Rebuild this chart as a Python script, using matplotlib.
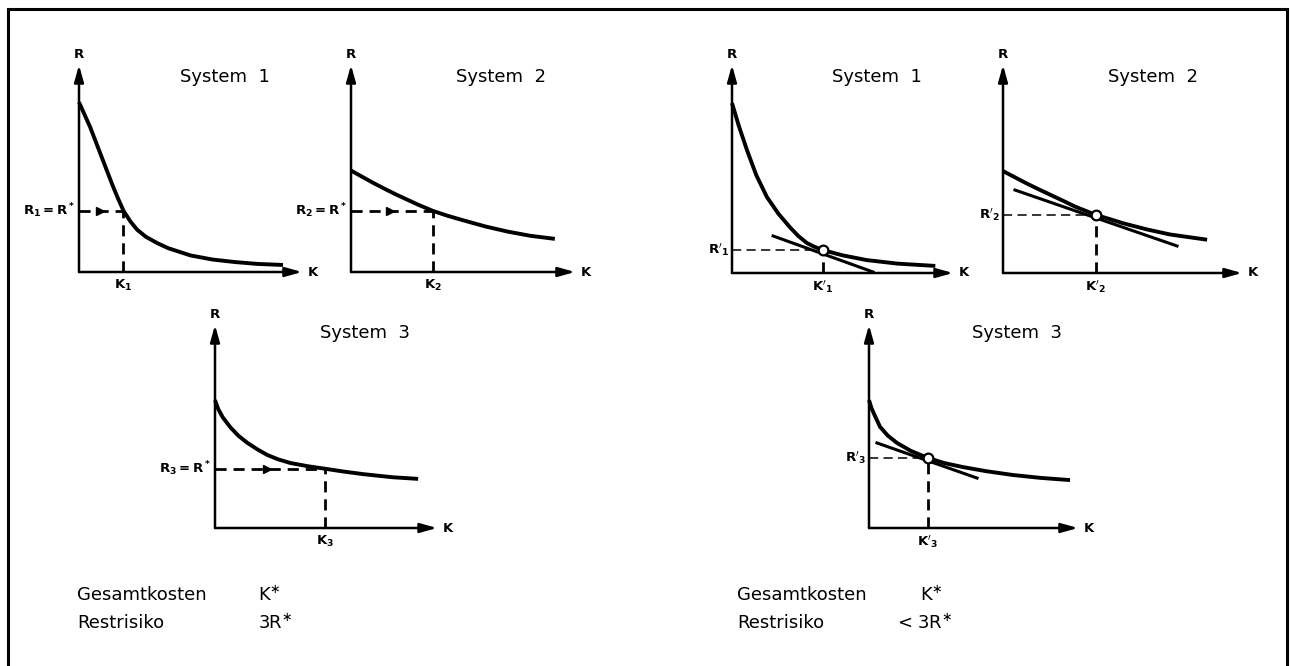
import numpy as np
import matplotlib.pyplot as plt
from matplotlib.patches import Rectangle

plt.rcParams['font.family'] = ['DejaVu Sans']
plt.rcParams['mathtext.fontset'] = 'dejavusans'

W, H = 1290, 666

# curve data (K, R) in schematic units, axis arrow tips at 10
k_sys1 = [0, 0.25, 0.5, 0.75, 1.0, 1.25, 1.5, 1.75, 2.0, 2.3, 2.6, 3.0, 3.5, 4.0, 5.0, 6.0, 7.0, 8.0, 9.15]
r_sys1 = [8.2, 7.6, 7.0, 6.3, 5.6, 4.9, 4.2, 3.55, 2.95, 2.45, 2.05, 1.7, 1.4, 1.15, 0.8, 0.6, 0.48, 0.39, 0.34]
k_sys2 = [0, 0.5, 1, 1.5, 2, 2.5, 3, 3.66, 4.3, 5, 6, 7, 8, 9.1]
r_sys2 = [4.9, 4.6, 4.3, 4.02, 3.75, 3.5, 3.25, 2.95, 2.72, 2.5, 2.2, 1.95, 1.75, 1.6]
k_sys3 = [0, 0.15, 0.35, 0.7, 1.05, 1.45, 1.9, 2.35, 2.85, 3.4, 4.2, 4.95, 5.8, 6.7, 8.0, 9.15]
r_sys3 = [6.3, 5.85, 5.45, 4.95, 4.55, 4.2, 3.88, 3.6, 3.38, 3.2, 3.04, 2.92, 2.78, 2.65, 2.5, 2.42]

# right side curves (after reallocation)
k_sys1b = [0, 0.3, 0.68, 1.1, 1.58, 2.1, 2.62, 3.0, 3.39, 3.75, 4.12, 5.0, 6.1, 7.5, 9.2]
r_sys1b = [8.17, 7.1, 5.9, 4.7, 3.65, 2.85, 2.2, 1.78, 1.44, 1.25, 1.1, 0.85, 0.62, 0.45, 0.34]
k_sys2b = [0, 0.5, 1, 1.5, 2, 2.5, 3, 3.89, 4.5, 5, 6, 7, 8.54]
r_sys2b = [4.9, 4.6, 4.3, 4.02, 3.75, 3.48, 3.2, 2.79, 2.58, 2.4, 2.1, 1.85, 1.6]
k_sys3b = [0, 0.12, 0.25, 0.53, 0.9, 1.34, 2.0, 2.82, 3.6, 4.5, 5.6, 6.89, 8.2, 9.62]
r_sys3b = [6.3, 5.9, 5.6, 4.98, 4.55, 4.19, 3.8, 3.45, 3.2, 3.0, 2.8, 2.61, 2.47, 2.36]

# cost / risk points
r_star = [2.95, 2.95, 2.92]
k_star = [1.97, 3.66, 4.95]
k_opt = [4.12, 3.89, 2.82]
r_opt = [1.1, 2.79, 3.45]
tan_k = [[1.86, 6.38], [0.5, 7.28], [0.38, 5.17]]
tan_r = [[1.78, 0.05], [3.99, 1.3], [4.19, 2.46]]

titles = ['System  1', 'System  2', 'System  3']

fig = plt.figure(figsize=(W / 100, H / 100), dpi=100)


def fx(x):
    return x / W


def fy(y):
    return 1 - y / H


def panel(x0, y0, xt, yt):
    ax = fig.add_axes([fx(x0), fy(y0), (xt - x0) / W, (y0 - yt) / H])
    ax.set_xlim(0, 10)
    ax.set_ylim(0, 10)
    ax.axis('off')
    arrow = dict(arrowstyle='-|>,head_length=1.0,head_width=0.28', lw=1.8,
                 color='black', mutation_scale=10, shrinkA=0, shrinkB=0)
    ax.annotate('', xy=(10, 0), xytext=(0, 0), arrowprops=arrow)
    ax.annotate('', xy=(0, 10), xytext=(0, 0), arrowprops=arrow)
    ax.annotate('R', xy=(0, 10), xytext=(0, 3), textcoords='offset points',
                ha='center', va='bottom', fontsize=9.5, fontweight='bold')
    ax.annotate('K', xy=(10, 0), xytext=(4, 0), textcoords='offset points',
                ha='left', va='center', fontsize=9.5, fontweight='bold')
    return ax


def left_panel(ax, k, r, i, title, tx, ty):
    ax.plot(k, r, color='black', lw=2.8, solid_capstyle='butt', clip_on=False)
    ax.plot([0, k_star[i]], [r_star[i], r_star[i]], color='black', lw=2,
            ls=(0, (4, 2.5)), clip_on=False)
    ax.plot([k_star[i], k_star[i]], [0, r_star[i]], color='black', lw=2,
            ls=(0, (4, 2.5)), clip_on=False)
    ax.plot(k_star[i] * 0.47, r_star[i], marker='>', color='black', ms=6, clip_on=False)
    ax.annotate(r'$\mathbf{R_%d = R^*}$' % (i + 1), xy=(0, r_star[i]), xytext=(-3, 0),
                textcoords='offset points', ha='right', va='center', fontsize=9.5)
    ax.annotate(r'$\mathbf{K_%d}$' % (i + 1), xy=(k_star[i], 0), xytext=(0, -4),
                textcoords='offset points', ha='center', va='top', fontsize=9.5)
    fig.text(fx(tx), fy(ty), title, ha='center', va='center', fontsize=13)


def right_panel(ax, k, r, i, title, tx, ty):
    ax.plot(k, r, color='black', lw=2.8, solid_capstyle='butt', clip_on=False)
    ax.plot(tan_k[i], tan_r[i], color='black', lw=2.2, clip_on=False)
    ax.plot([0, k_opt[i]], [r_opt[i], r_opt[i]], color='black', lw=1.1,
            ls=(0, (6, 3.5)), clip_on=False)
    ax.plot([k_opt[i], k_opt[i]], [0, r_opt[i]], color='black', lw=2,
            ls=(0, (4, 2.5)), clip_on=False)
    ax.plot(k_opt[i], r_opt[i], 'o', mfc='white', mec='black', ms=7, mew=1.6,
            zorder=5, clip_on=False)
    ax.annotate(r"$\mathbf{R'_%d}$" % (i + 1), xy=(0, r_opt[i]), xytext=(-2, 0),
                textcoords='offset points', ha='right', va='center', fontsize=9.5)
    ax.annotate(r"$\mathbf{K'_%d}$" % (i + 1), xy=(k_opt[i], 0), xytext=(0, -4),
                textcoords='offset points', ha='center', va='top', fontsize=9.5)
    fig.text(fx(tx), fy(ty), title, ha='center', va='center', fontsize=13)


# left half: equal risk R*
left_panel(panel(79, 272, 302, 65), k_sys1, r_sys1, 0, titles[0], 225, 77)
left_panel(panel(351, 272, 575, 65), k_sys2, r_sys2, 1, titles[1], 501, 77)
left_panel(panel(215, 528, 437, 325), k_sys3, r_sys3, 2, titles[2], 365, 333)

# right half: equal marginal slope
right_panel(panel(732, 273, 953, 65), k_sys1b, r_sys1b, 0, titles[0], 877, 77)
right_panel(panel(1003, 273, 1242, 65), k_sys2b, r_sys2b, 1, titles[1], 1153, 77)
right_panel(panel(869, 528, 1078, 325), k_sys3b, r_sys3b, 2, titles[2], 1017, 333)

# summary text
for x0, risk, rx in [(77, r'3R$^{\ast}$', 258), (737, r'< 3R$^{\ast}$', 897)]:
    fig.text(fx(x0), fy(595), 'Gesamtkosten', ha='left', va='center', fontsize=13)
    fig.text(fx(x0), fy(623), 'Restrisiko', ha='left', va='center', fontsize=13)
    fig.text(fx(rx + (0 if rx == 258 else 23)), fy(595), r'K$^{\ast}$', ha='left',
             va='center', fontsize=13)
    fig.text(fx(rx), fy(623), risk, ha='left', va='center', fontsize=13)

# frame
fig.patches.append(Rectangle((fx(8), fy(700)), fx(1287 - 8), (700 - 9) / H,
                             transform=fig.transFigure, fill=False,
                             edgecolor='black', lw=2.2))

fig.savefig('out.png', dpi=100)
